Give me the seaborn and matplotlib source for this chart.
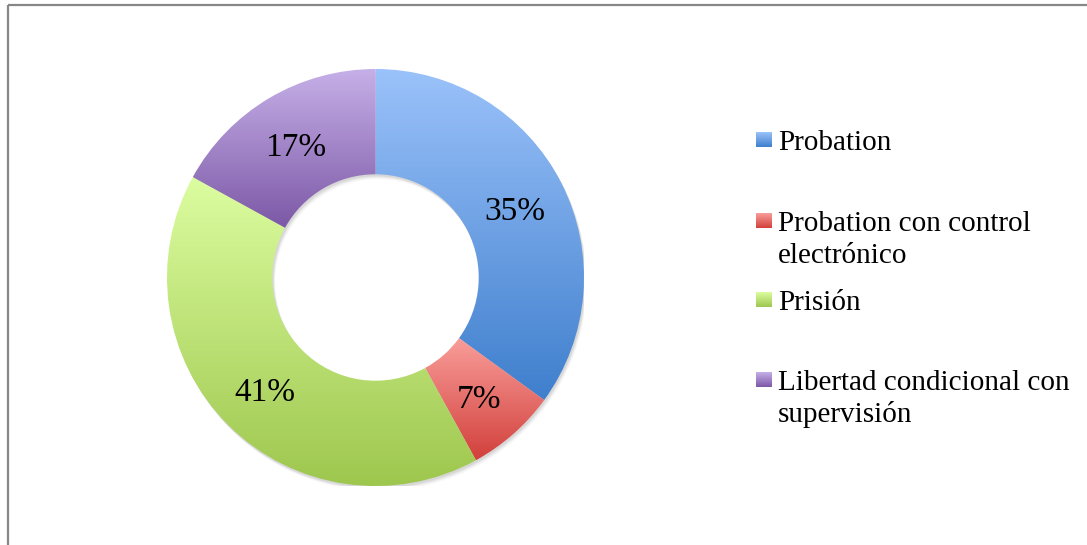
import numpy as np
import matplotlib
matplotlib.use("Agg")
import matplotlib.pyplot as plt
import seaborn as sns
from matplotlib.colors import LinearSegmentedColormap
from matplotlib.patches import Wedge

# ---- data ----
categories = ["Probation", "Probation con control\nelectrónico", "Prisión",
              "Libertad condicional con\nsupervisión"]
shares = [35, 7, 41, 17]
top_colors = ["#9BC2FA", "#F99E9A", "#DCFDA0", "#C6B0E8"]
bottom_colors = ["#3F7FCD", "#D2403C", "#9EC74E", "#7C58A6"]

sns.set_theme(style="white")
plt.rcParams['font.family'] = ['Liberation Serif', 'DejaVu Serif']

W, H = 1087, 545
fig = plt.figure(figsize=(W / 100, H / 100), dpi=100)
fig.patch.set_facecolor('white')

cx, cy, R = 375.5, 277.5, 208.5
ax = fig.add_axes([(cx - R) / W, (H - cy - R) / H, 2 * R / W, 2 * R / H])
RING = 0.505

# soft shadow
for off, a in [(5, 0.025), (4, 0.035), (3, 0.045), (2, 0.06)]:
    d = off / R
    ax.add_patch(Wedge((d * 0.6, -d), 1.0, 0, 360, width=RING,
                       facecolor='black', alpha=a, linewidth=0, zorder=0.5))

wedges, texts, autotexts = ax.pie(
    shares, startangle=90, counterclock=False, radius=1,
    wedgeprops=dict(width=RING, linewidth=0),
    autopct=lambda p: f"{p:.0f}%", pctdistance=0.75,
    textprops=dict(fontsize=24, color='black'))

grad = np.linspace(0, 1, 256).reshape(-1, 1)
for w, c0, c1 in zip(wedges, top_colors, bottom_colors):
    ext = w.get_path().get_extents()
    cmap = LinearSegmentedColormap.from_list('g', [c0, c1])
    im = ax.imshow(grad, cmap=cmap, extent=(ext.x0, ext.x1, ext.y0, ext.y1),
                   origin='upper', aspect='auto', zorder=1.5,
                   interpolation='bilinear')
    im.set_clip_path(w)
    w.set_facecolor('none')
for t in autotexts:
    t.set_zorder(4)
    x, y = t.get_position()
    t.set_position((x, y - 5 / R))

ax.set_xlim(-1, 1)
ax.set_ylim(-1, 1)
ax.set_aspect('auto')
ax.axis('off')

# ---- legend & frame (pixel coordinates) ----
lax = fig.add_axes([0, 0, 1, 1])
lax.set_xlim(0, W)
lax.set_ylim(H, 0)
lax.axis('off')
lax.patch.set_alpha(0)

baselines = [150, 231, 310, 390]
for lab, b, c0, c1 in zip(categories, baselines, top_colors, bottom_colors):
    cmap = LinearSegmentedColormap.from_list('g', [c0, c1])
    lax.imshow(grad, cmap=cmap, extent=(756, 772, b - 3, b - 18),
               origin='upper', aspect='auto', interpolation='bilinear')
    for i, line in enumerate(lab.split("\n")):
        lax.text(778, b + i * 32, line, fontsize=21, va='baseline',
                 ha='left', color='black')

lax.plot([8, 8], [5, H + 5], color='#878787', lw=1.6, solid_capstyle='butt')
lax.plot([8, W + 5], [5, 5], color='#878787', lw=1.6, solid_capstyle='butt')
lax.set_xlim(0, W)
lax.set_ylim(H, 0)

fig.savefig("out.png", dpi=100, facecolor='white')
